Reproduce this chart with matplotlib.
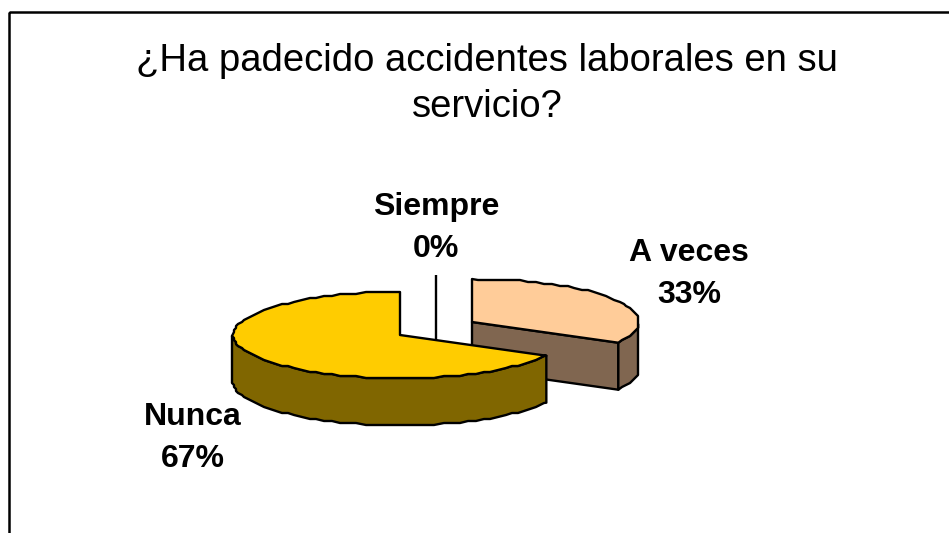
import numpy as np
import matplotlib
matplotlib.use('Agg')
import matplotlib.pyplot as plt
from matplotlib.patches import Polygon, Rectangle

plt.rcParams['font.family'] = ['Liberation Sans', 'DejaVu Sans']

# datos
titulo = '¿Ha padecido accidentes laborales en su\nservicio?'
etiquetas = ['A veces', 'Nunca', 'Siempre']
valores = [33, 67, 0]
colores_top = ['#FFCC99', '#FFCC00', '#FFFFFF']
colores_lado = ['#806650', '#806600', '#808080']

# posiciones en pixeles
centros = {'A veces': (472, 322), 'Siempre': (436, 318), 'Nunca': (400, 335)}
pos_texto = {'A veces': (689, 274), 'Siempre': (436, 228), 'Nunca': (193, 438)}
orden = ['Siempre', 'A veces', 'Nunca']  # de atras hacia delante
rx, ry, alto = 167, 43, 47

fig = plt.figure(figsize=(9.49, 5.33), dpi=100)
ax = fig.add_axes([0, 0, 1, 1])
ax.set_xlim(0, 949)
ax.set_ylim(533, 0)
ax.axis('off')

# marco del grafico, se corta a la derecha y abajo
ax.add_patch(Rectangle((9.5, 12), 960, 540, fc='none', ec='black', lw=1.8))


def punto(cx, cy, ang):
    return np.array([cx + rx * np.cos(np.radians(ang)), cy - ry * np.sin(np.radians(ang))])


def dibuja(nombre, a1, a2, top, lado):
    cx, cy = centros[nombre]
    kw = dict(ec='black', lw=1.7, joinstyle='round')
    c = np.array([cx, cy], dtype=float)
    abajo = np.array([0, alto])
    t = np.arange(a1, a2, 3.0)
    t = np.append(t, a2)
    arco = np.array([punto(cx, cy, a) for a in t])
    # redondeo para que quede el borde dentado
    arco[1:-1] = np.round(arco[1:-1] / 2) * 2

    # cara radial que mira hacia delante
    if nombre == 'A veces':
        ax.add_patch(Polygon([c, arco[0], arco[0] + abajo, c + abajo], fc=lado, **kw))
    # pared exterior, solo la mitad de delante
    frente = np.sin(np.radians(t)) <= 0.02
    if frente.sum() > 1:
        seg = arco[frente]
        ax.add_patch(Polygon(np.vstack([seg, (seg + abajo)[::-1]]), fc=lado, **kw))
    if a1 == a2:
        # porcion de 0%: queda solo una raya, tapada por la de delante
        ax.add_patch(Polygon([[cx, cy - ry], [cx, cy + alto]], closed=False, fill=False, **kw))
    else:
        ax.add_patch(Polygon(np.vstack([c, arco]), fc=top, **kw))


# angulos desde los valores: empieza arriba y va en sentido horario
total = sum(valores)
angulos = {}
fin = 90.0
for nombre, v, ct, cl in zip(etiquetas, valores, colores_top, colores_lado):
    ini = fin - v / total * 360
    angulos[nombre] = (ini, fin, ct, cl)
    fin = ini

for nombre in orden:
    dibuja(nombre, *angulos[nombre])

for nombre, v in zip(etiquetas, valores):
    x, y = pos_texto[nombre]
    ax.text(x, y, f'{nombre}\n{v}%', ha='center', va='center', fontsize=23,
            fontweight='bold', linespacing=1.5)

ax.text(487, 84, titulo, ha='center', va='center', fontsize=27.5, linespacing=1.34)

fig.savefig('out.png', dpi=100)
